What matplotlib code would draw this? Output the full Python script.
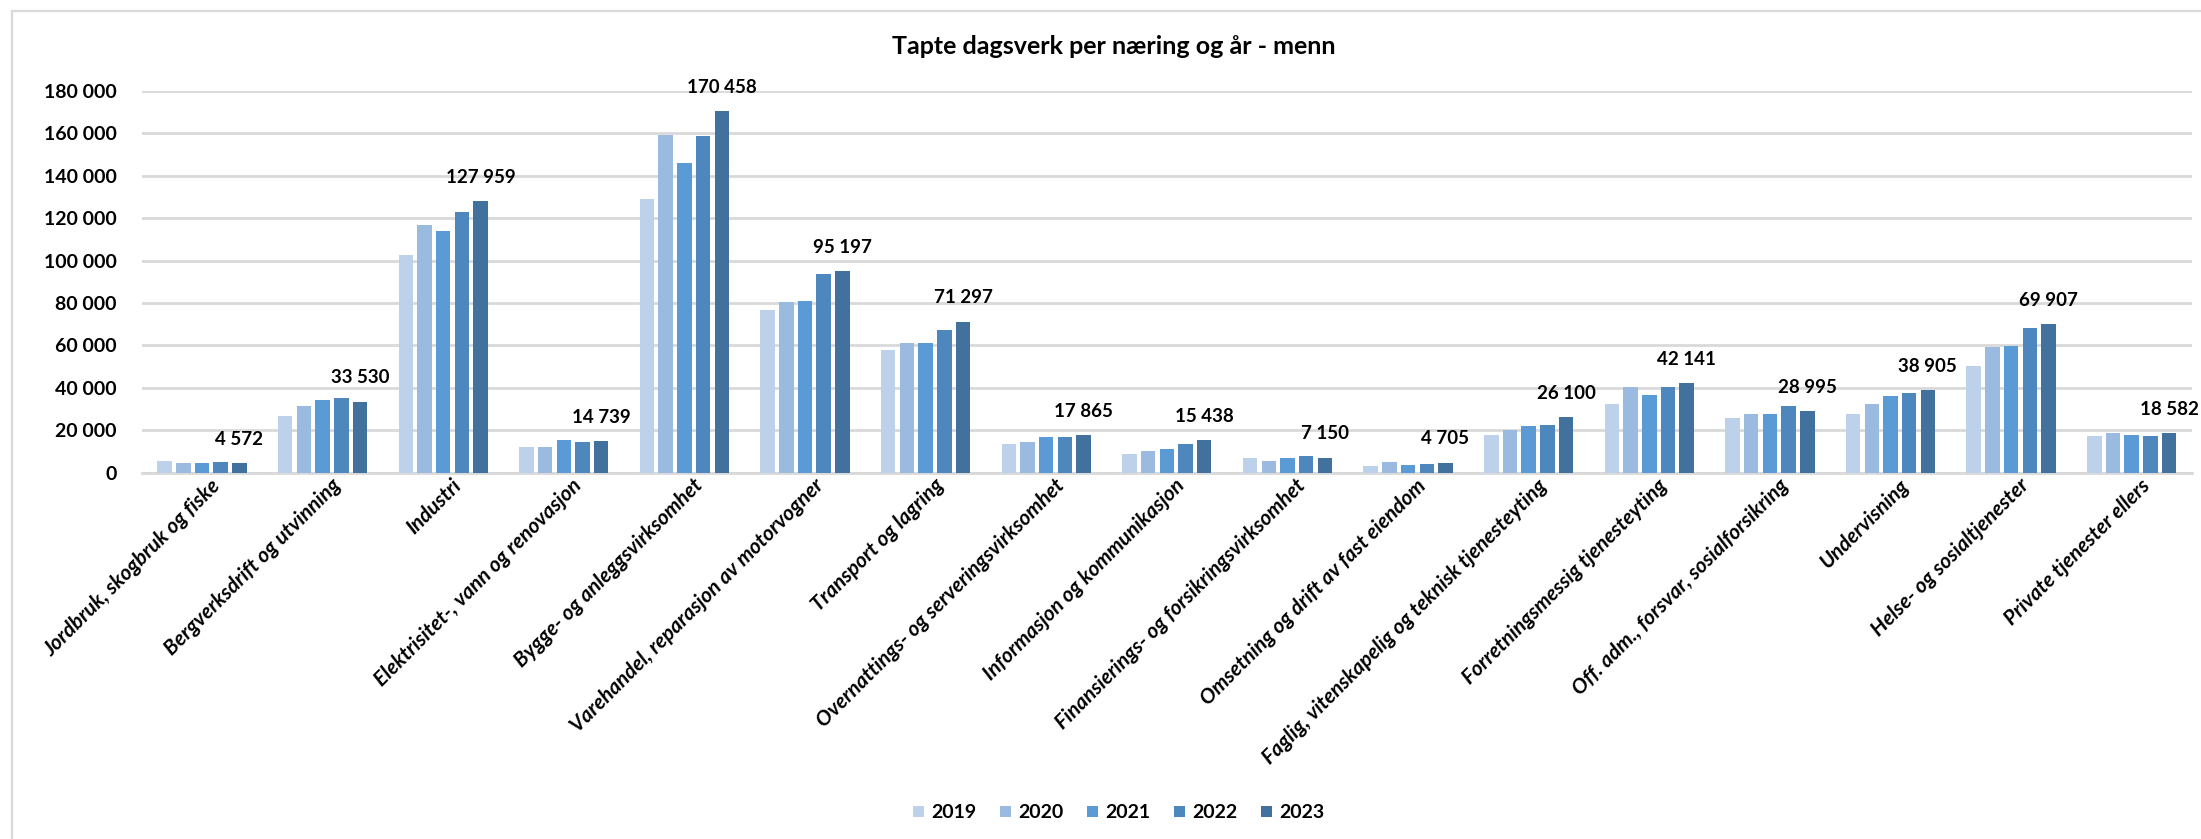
import matplotlib
matplotlib.use("Agg")
import matplotlib.pyplot as plt
import matplotlib.transforms as mtransforms
from matplotlib.patches import Rectangle
from matplotlib.ticker import FuncFormatter
import numpy as np

plt.rcParams['font.family'] = ['Lato', 'DejaVu Sans']

categories = [
    "Jordbruk, skogbruk og fiske",
    "Bergverksdrift og utvinning",
    "Industri",
    "Elektrisitet-, vann og renovasjon",
    "Bygge- og anleggsvirksomhet",
    "Varehandel, reparasjon av motorvogner",
    "Transport og lagring",
    "Overnattings- og serveringsvirksomhet",
    "Informasjon og kommunikasjon",
    "Finansierings- og forsikringsvirksomhet",
    "Omsetning og drift av fast eiendom",
    "Faglig, vitenskapelig og teknisk tjenesteyting",
    "Forretningsmessig tjenesteyting",
    "Off. adm., forsvar, sosialforsikring",
    "Undervisning",
    "Helse- og sosialtjenester",
    "Private tjenester ellers",
]

years = ["2019", "2020", "2021", "2022", "2023"]

v2019 = [5500, 26700, 102500, 11950, 129200, 76700, 57700, 13500, 8800, 6760, 2990, 17760, 32400, 25600, 27700, 50300, 17100]
v2020 = [4600, 31400, 116600, 11950, 159400, 80300, 61000, 14600, 10400, 5660, 5030, 20300, 40200, 27700, 32400, 59300, 18700]
v2021 = [4600, 34100, 114100, 15560, 146000, 81000, 61000, 16800, 11000, 6760, 3620, 22000, 36600, 27700, 36200, 59700, 17800]
v2022 = [5000, 35100, 122900, 14460, 158800, 93500, 67300, 16800, 13500, 7860, 4090, 22500, 40200, 31300, 37600, 68200, 17100]
v2023 = [4572, 33530, 127959, 14739, 170458, 95197, 71297, 17865, 15438, 7150, 4705, 26100, 42141, 28995, 38905, 69907, 18582]

series = [v2019, v2020, v2021, v2022, v2023]
colors = ["#BDD1EB", "#9ABAE0", "#5B9BD5", "#4E87BE", "#41719C"]

def fmt(v):
    return f"{int(v):,}".replace(",", " ")

fig = plt.figure(figsize=(22.01, 8.39), dpi=100)

# chart border
fig.patches.append(Rectangle((12/2201, -0.05), 1.2, 1 - 11/839 + 0.05,
                             transform=fig.transFigure, fill=False,
                             edgecolor="#D9D9D9", linewidth=1.6, zorder=0))

ax = fig.add_axes([141.7/2201, 1 - 472.7/839, (2192 - 141.7)/2201, (472.7 - 91)/839])

x = np.arange(len(categories))
pitch = 0.155
width = 0.12
for i, (vals, c, y) in enumerate(zip(series, colors, years)):
    pos = x + (i - 2) * pitch
    ax.bar(pos, vals, width=width, color=c, label=y, zorder=3)
    if i == 4:
        for p, v in zip(pos, vals):
            ax.annotate(fmt(v), (p, v), xytext=(0, 11), textcoords="offset points",
                        ha="center", va="bottom", fontsize=13.5, fontweight="bold",
                        color="#000000")

ax.set_xlim(-0.5, len(categories) - 0.5)
ax.set_ylim(0, 180000)
ax.set_yticks(np.arange(0, 180001, 20000))
ax.yaxis.set_major_formatter(FuncFormatter(lambda v, p: fmt(v)))
ax.grid(axis="y", color="#D9D9D9", linewidth=2, zorder=0)
ax.set_axisbelow(True)
for s in ["top", "right", "left"]:
    ax.spines[s].set_visible(False)
ax.spines["bottom"].set_color("#D9D9D9")
ax.spines["bottom"].set_linewidth(2)
ax.tick_params(axis="y", length=0, pad=18, labelsize=14)
for t in ax.get_yticklabels():
    t.set_fontweight("bold")

ax.set_xticks(x)
ax.set_xticklabels(categories, rotation=45, ha="right", va="top",
                   rotation_mode="anchor", fontsize=15, fontweight="bold",
                   fontstyle="italic")
ax.tick_params(axis="x", length=0, pad=2)
offset = mtransforms.ScaledTranslation(8/100, 0, fig.dpi_scale_trans)
for t in ax.get_xticklabels():
    t.set_transform(t.get_transform() + offset)

fig.text(1114/2201, 1 - 47/839, "Tapte dagsverk per næring og år - menn",
         ha="center", va="center", fontsize=18, fontweight="bold")

leg = fig.legend(loc="center", bbox_to_anchor=(1119/2201, 1 - 813/839), ncol=5,
                 frameon=False, handlelength=0.55, handleheight=0.55,
                 handletextpad=0.4, columnspacing=1.2,
                 prop={"size": 14, "weight": "bold"})

fig.savefig("out.png", dpi=100, facecolor="white")
